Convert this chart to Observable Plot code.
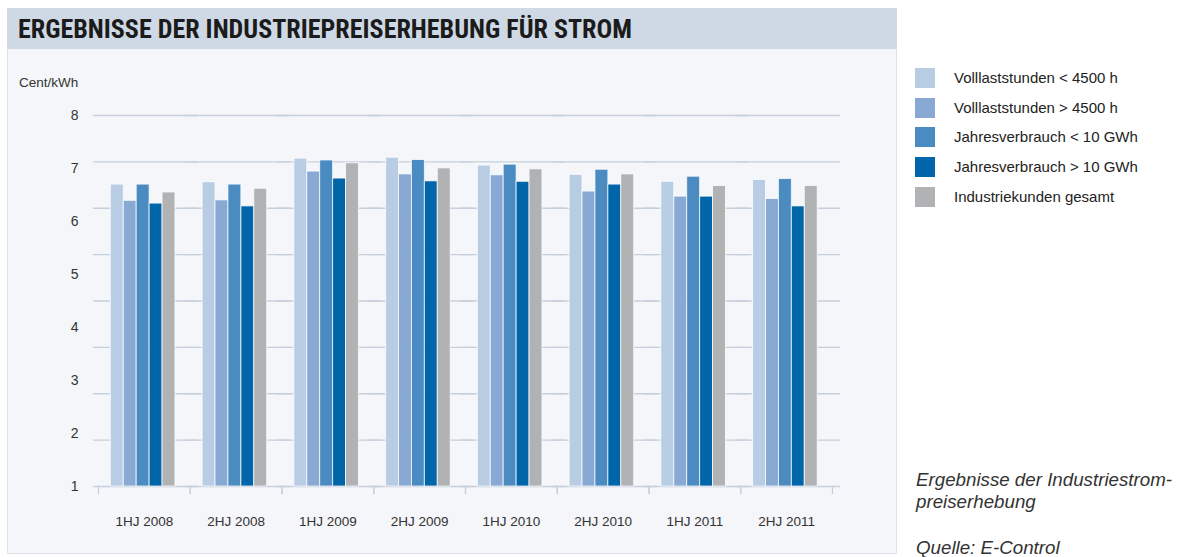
<!DOCTYPE html>
<html>
<head>
<meta charset="utf-8">
<script src="https://cdn.jsdelivr.net/npm/d3@7"></script>
<script src="https://cdn.jsdelivr.net/npm/@observablehq/plot@0.6"></script>
<style>
  html, body { margin: 0; padding: 0; background: #ffffff; }
  #page { position: relative; width: 1180px; height: 557px; overflow: hidden; font-family: "Liberation Sans", Arial, sans-serif; color: #333; }
  #panel { position: absolute; left: 7px; top: 8px; width: 888px; height: 544px; background: #f4f6fa; border: 1px solid #dde3ec; }
  #titlebar { position: absolute; left: 7px; top: 8px; width: 890px; height: 41px; background: #cfd9e5; }
  #title { position: absolute; left: 18px; top: 14px; font-family: "Liberation Sans Narrow", "Roboto Condensed", Roboto, "Liberation Sans", sans-serif; font-weight: bold; font-size: 26px; line-height: 30px; color: #1b1b1b; white-space: nowrap; display: inline-block; transform-origin: left center; }
  #unit { position: absolute; left: 19px; top: 75px; font-size: 13.5px; color: #333; white-space: nowrap; }
  #chart { position: absolute; left: 0; top: 0; }
  #legend { position: absolute; left: 915px; top: 68px; }
  .row { position: relative; height: 29.7px; }
  .sw { position: absolute; left: 0; top: 0; width: 20px; height: 20px; }
  .lab { position: absolute; left: 39px; top: 1px; font-size: 15px; line-height: 18px; color: #222; white-space: nowrap; }
  .cap { position: absolute; left: 916px; font-style: italic; font-size: 19px; line-height: 22px; color: #333; white-space: nowrap; display: inline-block; transform-origin: left center; }
</style>
</head>
<body>
<div id="page">
  <div id="panel"></div>
  <div id="titlebar"></div>
  <div id="title">ERGEBNISSE DER INDUSTRIEPREISERHEBUNG FÜR STROM</div>
  <div id="unit">Cent/kWh</div>
  <div id="chart"></div>
  <div id="legend"></div>
  <div class="cap" id="cap1" style="top:469px">Ergebnisse der Industriestrom-</div>
  <div class="cap" id="cap2" style="top:491px">preiserhebung</div>
  <div class="cap" id="cap3" style="top:537px">Quelle: E-Control</div>
</div>
<script>
// ---- data ----
const periods = ["1HJ 2008", "2HJ 2008", "1HJ 2009", "2HJ 2009", "1HJ 2010", "2HJ 2010", "1HJ 2011", "2HJ 2011"];
const seriesNames = ["Volllaststunden < 4500 h", "Volllaststunden > 4500 h", "Jahresverbrauch < 10 GWh", "Jahresverbrauch > 10 GWh", "Industriekunden gesamt"];
const vollUnter4500 = [6.51, 6.56, 7.07, 7.09, 6.92, 6.72, 6.57, 6.61];
const vollUeber4500 = [6.16, 6.17, 6.79, 6.73, 6.71, 6.36, 6.25, 6.20];
const jvUnter10 = [6.51, 6.51, 7.03, 7.04, 6.94, 6.83, 6.68, 6.63];
const jvUeber10 = [6.10, 6.04, 6.64, 6.58, 6.57, 6.51, 6.25, 6.04];
const gesamt = [6.34, 6.42, 6.97, 6.86, 6.84, 6.73, 6.48, 6.48];
const yTickLabels = [1, 2, 3, 4, 5, 6, 7, 8];
const gridValues = [0, 1, 2, 3, 4, 5, 6, 7, 8];
const colors = ["#b8cce4", "#87a9d3", "#4a8bc1", "#0065a9", "#b1b2b4"];

const seriesValues = [vollUnter4500, vollUeber4500, jvUnter10, jvUeber10, gesamt];
const rows = [];
periods.forEach((p, i) => seriesNames.forEach((s, j) => rows.push({period: p, series: s, value: seriesValues[j][i]})));

// ---- layout ----
const W = 900, H = 557, mT = 115, mB = 71, mL = 98, mR = 68;
const innerH = H - mT - mB;
const gridColor = "#c6cfdc";

const chart = Plot.plot({
  width: W, height: H,
  marginTop: mT, marginBottom: mB, marginLeft: mL, marginRight: mR,
  style: {background: "transparent", fontFamily: "Liberation Sans, Arial, sans-serif", fontSize: "13.5px", color: "#333", overflow: "visible"},
  fx: {domain: periods, padding: 0, round: false, label: null},
  x: {domain: seriesNames, paddingInner: 0, paddingOuter: 1.05, align: 0.455, round: false, axis: null},
  y: {domain: [0, 8], label: null},
  color: {domain: seriesNames, range: colors},
  marks: [
    Plot.ruleY(gridValues, {y: d => d, stroke: gridColor, strokeWidth: 1.4, insetLeft: -5, insetRight: -8}),
    Plot.frame({anchor: "left", insetTop: innerH, insetBottom: -7, stroke: gridColor, strokeWidth: 1.2}),
    Plot.frame({anchor: "right", insetTop: innerH, insetBottom: -7, stroke: gridColor, strokeWidth: 1.2}),
    Plot.barY(rows, {fx: "period", x: "series", y: "value", fill: "series", stroke: "#ffffff", strokeOpacity: 0.75, strokeWidth: 1}),
    // the original spreads its labels 1..8 evenly over the value axis
    Plot.axisY(yTickLabels.map((k, i) => i * 8 / (yTickLabels.length - 1)), {
      tickSize: 0, tickPadding: 20, label: null, fontSize: 14, fill: "#333",
      tickFormat: v => yTickLabels[Math.round(v * (yTickLabels.length - 1) / 8)]
    }),
    Plot.axisFx({anchor: "bottom", tickSize: 0, tickPadding: 30, label: null, fontSize: 13.5, fill: "#333"})
  ]
});
document.getElementById("chart").appendChild(chart);

// ---- legend ----
const legend = document.getElementById("legend");
seriesNames.forEach((s, i) => {
  const r = document.createElement("div"); r.className = "row";
  const sw = document.createElement("div"); sw.className = "sw"; sw.style.background = colors[i];
  const lb = document.createElement("div"); lb.className = "lab"; lb.textContent = s;
  r.appendChild(sw); r.appendChild(lb); legend.appendChild(r);
});

// ---- fit condensed texts ----
function fit(el, target) {
  const w = el.getBoundingClientRect().width;
  const k = target / w;
  el.style.transform = `scaleX(${k})`;
  return k;
}
fit(document.getElementById("title"), 614);
const k = fit(document.getElementById("cap1"), 256);
document.getElementById("cap2").style.transform = `scaleX(${k})`;
document.getElementById("cap3").style.transform = `scaleX(${k})`;
</script>
</body>
</html>
